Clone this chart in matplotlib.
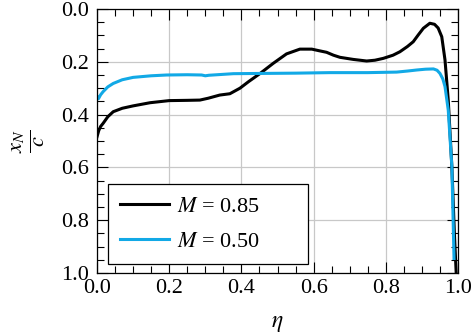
import matplotlib
matplotlib.use("Agg")
import matplotlib.pyplot as plt
from matplotlib.ticker import MultipleLocator

plt.rcParams['font.family'] = ['Liberation Serif', 'DejaVu Serif']
plt.rcParams['mathtext.fontset'] = 'stix'

# M = 0.85
eta_085 = [0.0, 0.005, 0.01, 0.017, 0.03, 0.045, 0.07, 0.1, 0.147, 0.2, 0.25,
           0.285, 0.308, 0.34, 0.368, 0.396, 0.42, 0.452, 0.488, 0.525, 0.562,
           0.595, 0.615, 0.636, 0.655, 0.673, 0.71, 0.747, 0.77, 0.793, 0.82,
           0.839, 0.86, 0.876, 0.89, 0.904, 0.922, 0.935, 0.945, 0.955, 0.964,
           0.973, 0.983, 0.99, 0.995]
xn_085 = [0.484, 0.46, 0.445, 0.433, 0.408, 0.389, 0.376, 0.367, 0.355, 0.347,
          0.346, 0.345, 0.338, 0.326, 0.321, 0.300, 0.275, 0.244, 0.206, 0.170,
          0.152, 0.152, 0.158, 0.164, 0.175, 0.183, 0.191, 0.197, 0.194, 0.187,
          0.175, 0.162, 0.142, 0.124, 0.098, 0.073, 0.054, 0.058, 0.072, 0.105,
          0.193, 0.345, 0.597, 0.85, 1.0]

# M = 0.50
eta_050 = [0.0, 0.004, 0.01, 0.017, 0.03, 0.045, 0.07, 0.1, 0.15, 0.193, 0.25,
           0.29, 0.3, 0.31, 0.378, 0.461, 0.55, 0.645, 0.75, 0.83, 0.86, 0.886,
           0.91, 0.932, 0.942, 0.95, 0.958, 0.964, 0.973, 0.983, 0.989]
xn_050 = [0.33, 0.34, 0.325, 0.313, 0.295, 0.282, 0.268, 0.259, 0.253, 0.25,
          0.249, 0.25, 0.253, 0.251, 0.245, 0.244, 0.243, 0.241, 0.241, 0.239,
          0.235, 0.231, 0.228, 0.227, 0.232, 0.244, 0.265, 0.294, 0.383, 0.597,
          0.945]

fig = plt.figure(figsize=(4.71, 3.34), dpi=100)
ax = fig.add_axes([97 / 471, 1 - 273 / 334, 361 / 471, 264 / 334])

ax.plot(eta_085, xn_085, color='black', lw=2.2, label=r'$M$ = 0.85')
ax.plot(eta_050, xn_050, color='#12a9e6', lw=2.2, label=r'$M$ = 0.50')

ax.set_xlim(0, 1)
ax.set_ylim(1, 0)
ax.xaxis.set_major_locator(MultipleLocator(0.2))
ax.xaxis.set_minor_locator(MultipleLocator(0.05))
ax.yaxis.set_major_locator(MultipleLocator(0.2))
ax.yaxis.set_minor_locator(MultipleLocator(0.05))
ax.tick_params(which='both', direction='in', top=True, right=True,
               labelsize=16, width=0.8)
ax.tick_params(which='major', length=8)
ax.tick_params(which='minor', length=5)
ax.tick_params(axis='x', pad=4)
ax.tick_params(axis='y', pad=6)
ax.grid(True, which='major', color='#c8c8c8', lw=0.9)
for s in ax.spines.values():
    s.set_linewidth(0.9)

ax.set_xlabel(r'$\eta$', fontsize=17, labelpad=11)
ax.set_ylabel(r'$\frac{x_N}{c}$', fontsize=23, labelpad=10)

leg = ax.legend(loc='lower left', fontsize=16, fancybox=False, framealpha=1,
                edgecolor='black', mode='expand',
                bbox_to_anchor=(11 / 361, 9 / 264, 200 / 361, 79 / 264),
                borderaxespad=0, handlelength=2.2, handletextpad=0.35,
                borderpad=0.55, labelspacing=0.65)
leg.get_frame().set_linewidth(0.9)

fig.savefig('out.png', dpi=100)
